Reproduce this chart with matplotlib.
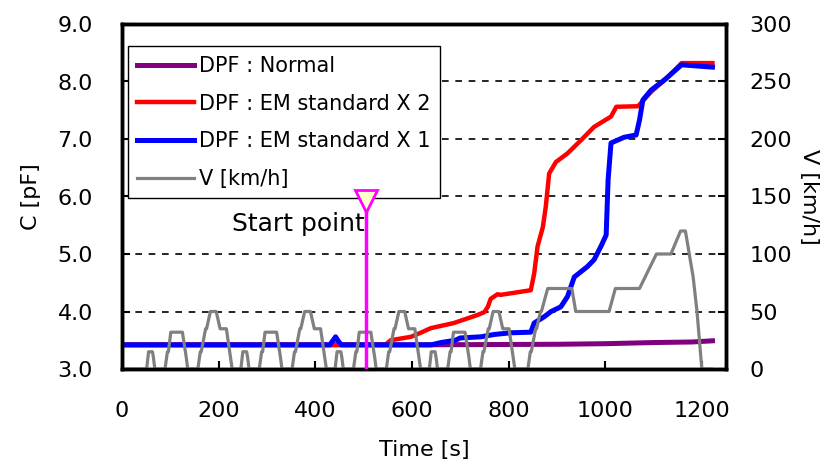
import numpy as np
import matplotlib
matplotlib.use("Agg")
import matplotlib.pyplot as plt

plt.rcParams['font.family'] = ['DejaVu Sans']

# capacitance curves, time [s] -> C [pF]
t_normal = [0, 600, 900, 1000, 1100, 1180, 1222]
c_normal = [3.42, 3.42, 3.43, 3.44, 3.46, 3.47, 3.49]

t_em2 = [0, 545, 556, 598, 618, 639, 687, 722, 736, 750, 757, 763, 777, 784,
         846, 853, 860, 871, 877, 884, 898, 922, 950, 977, 1012, 1023, 1068,
         1095, 1130, 1158, 1222]
c_em2 = [3.42, 3.42, 3.5, 3.56, 3.63, 3.71, 3.8, 3.9, 3.94, 3.99, 4.08, 4.22,
         4.3, 4.29, 4.37, 4.66, 5.13, 5.47, 5.82, 6.4, 6.6, 6.75, 6.98, 7.21,
         7.39, 7.56, 7.57, 7.82, 8.08, 8.32, 8.32]

t_em1 = [0, 430, 437, 442, 448, 454, 640, 660, 690, 700, 743, 770, 805, 846,
         853, 874, 888, 908, 922, 929, 936, 963, 977, 991, 1002, 1006, 1012,
         1039, 1064, 1071, 1078, 1095, 1123, 1158, 1222]
c_em1 = [3.42, 3.42, 3.5, 3.56, 3.48, 3.42, 3.42, 3.46, 3.5, 3.54, 3.56, 3.6,
         3.63, 3.64, 3.8, 3.91, 4.0, 4.08, 4.26, 4.43, 4.6, 4.78, 4.9, 5.13,
         5.33, 6.29, 6.93, 7.03, 7.07, 7.33, 7.68, 7.85, 8.03, 8.29, 8.25]

# vehicle speed, time [s] -> V [km/h]
t_speed = [0, 40, 51, 55, 63, 65, 68, 89, 94, 96, 101, 125, 133, 136, 157, 162,
           164, 173, 175, 183, 195, 203, 216, 228, 235,
           246, 250, 258, 260, 263, 284, 289, 291, 296, 320, 328, 331, 352, 357,
           359, 368, 370, 378, 390, 398, 411, 423, 430,
           441, 445, 453, 455, 458, 479, 484, 486, 491, 515, 523, 526, 547, 552,
           554, 563, 565, 573, 585, 593, 606, 618, 625,
           636, 640, 648, 650, 653, 674, 679, 681, 686, 710, 718, 721, 742, 747,
           749, 758, 760, 768, 780, 788, 801, 813, 820,
           840, 845, 847, 856, 858, 866, 868, 881, 931, 939, 1008, 1021, 1071,
           1106, 1136, 1156, 1166, 1182, 1190, 1200, 1220]
v_speed = [0, 0, 0, 15, 15, 10, 0, 0, 15, 15, 32, 32, 10, 0, 0, 15,
           15, 35, 35, 50, 50, 35, 35, 0, 0,
           0, 15, 15, 10, 0, 0, 15, 15, 32, 32, 10, 0, 0, 15,
           15, 35, 35, 50, 50, 35, 35, 0, 0,
           0, 15, 15, 10, 0, 0, 15, 15, 32, 32, 10, 0, 0, 15,
           15, 35, 35, 50, 50, 35, 35, 0, 0,
           0, 15, 15, 10, 0, 0, 15, 15, 32, 32, 10, 0, 0, 15,
           15, 35, 35, 50, 50, 35, 35, 0, 0,
           0, 15, 15, 35, 35, 50, 50, 70, 70, 50, 50, 70, 70,
           100, 100, 120, 120, 80, 50, 0, 0]

start_t = 505
start_c = 5.93

fig = plt.figure(figsize=(8.36, 4.65), dpi=100)
ax = fig.add_axes([122 / 836, 1 - 369 / 465, 604 / 836, 345 / 465])
ax2 = ax.twinx()

ax.plot(t_normal, c_normal, color='#800080', lw=3.6, label='DPF : Normal')
ax.plot(t_em2, c_em2, color='#ff0000', lw=3.2, label='DPF : EM standard X 2')
ax.plot(t_em1, c_em1, color='#0000ff', lw=3.6, label='DPF : EM standard X 1')
ax2.plot(t_speed, v_speed, color='#808080', lw=2.3, label='V [km/h]')

ax.set_xlim(0, 1250)
ax.set_ylim(3.0, 9.0)
ax2.set_ylim(0, 300)

# start point marker (on the speed axis so it sits above the grey line)
v_top = (start_c - 3.0) / 6.0 * 300
ax2.plot([start_t, start_t], [0, v_top], color='#ff00ff', lw=2.5, zorder=5)
ax2.plot([start_t], [v_top], marker='v', ms=16, mfc='#ffffcc', mec='#ff00ff',
         mew=2, zorder=6)
ax.text(start_t - 3, 5.52, 'Start point', ha='right', va='center', fontsize=18)

ax.set_xticks(range(0, 1201, 200))
ax.set_yticks(np.arange(3.0, 9.01, 1.0))
ax.set_yticklabels([f'{v:.1f}' for v in np.arange(3.0, 9.01, 1.0)])
ax2.set_yticks(range(0, 301, 50))

for y in [4, 5, 6, 7, 8]:
    ax.axhline(y, color='black', lw=1.2, ls=(0, (4, 4)), zorder=1)

ax.tick_params(axis='both', direction='in', length=6, width=1.5, labelsize=16)
ax.tick_params(axis='y', pad=21)
ax.tick_params(axis='x', pad=23)
ax2.tick_params(axis='y', direction='in', length=6, width=1.5, labelsize=16, pad=17)
for a in (ax, ax2):
    for s in a.spines.values():
        s.set_linewidth(2.5)

ax.set_xlabel('Time [s]', fontsize=16, labelpad=14)
ax.set_ylabel('C [pF]', fontsize=16, labelpad=12)
ax2.set_ylabel('V [km/h]', fontsize=16, rotation=-90, labelpad=5, va='bottom')

h1, l1 = ax.get_legend_handles_labels()
h2, l2 = ax2.get_legend_handles_labels()
leg = ax2.legend(h1 + h2, l1 + l2, loc='upper left', bbox_to_anchor=(0.01, 0.935),
                 borderaxespad=0, fontsize=15, handlelength=2.7, handletextpad=0.25,
                 labelspacing=0.85, borderpad=0.45, fancybox=False, framealpha=1,
                 edgecolor='black')
leg.get_frame().set_linewidth(1.0)
leg.set_zorder(4)

fig.savefig('out.png', dpi=100)
